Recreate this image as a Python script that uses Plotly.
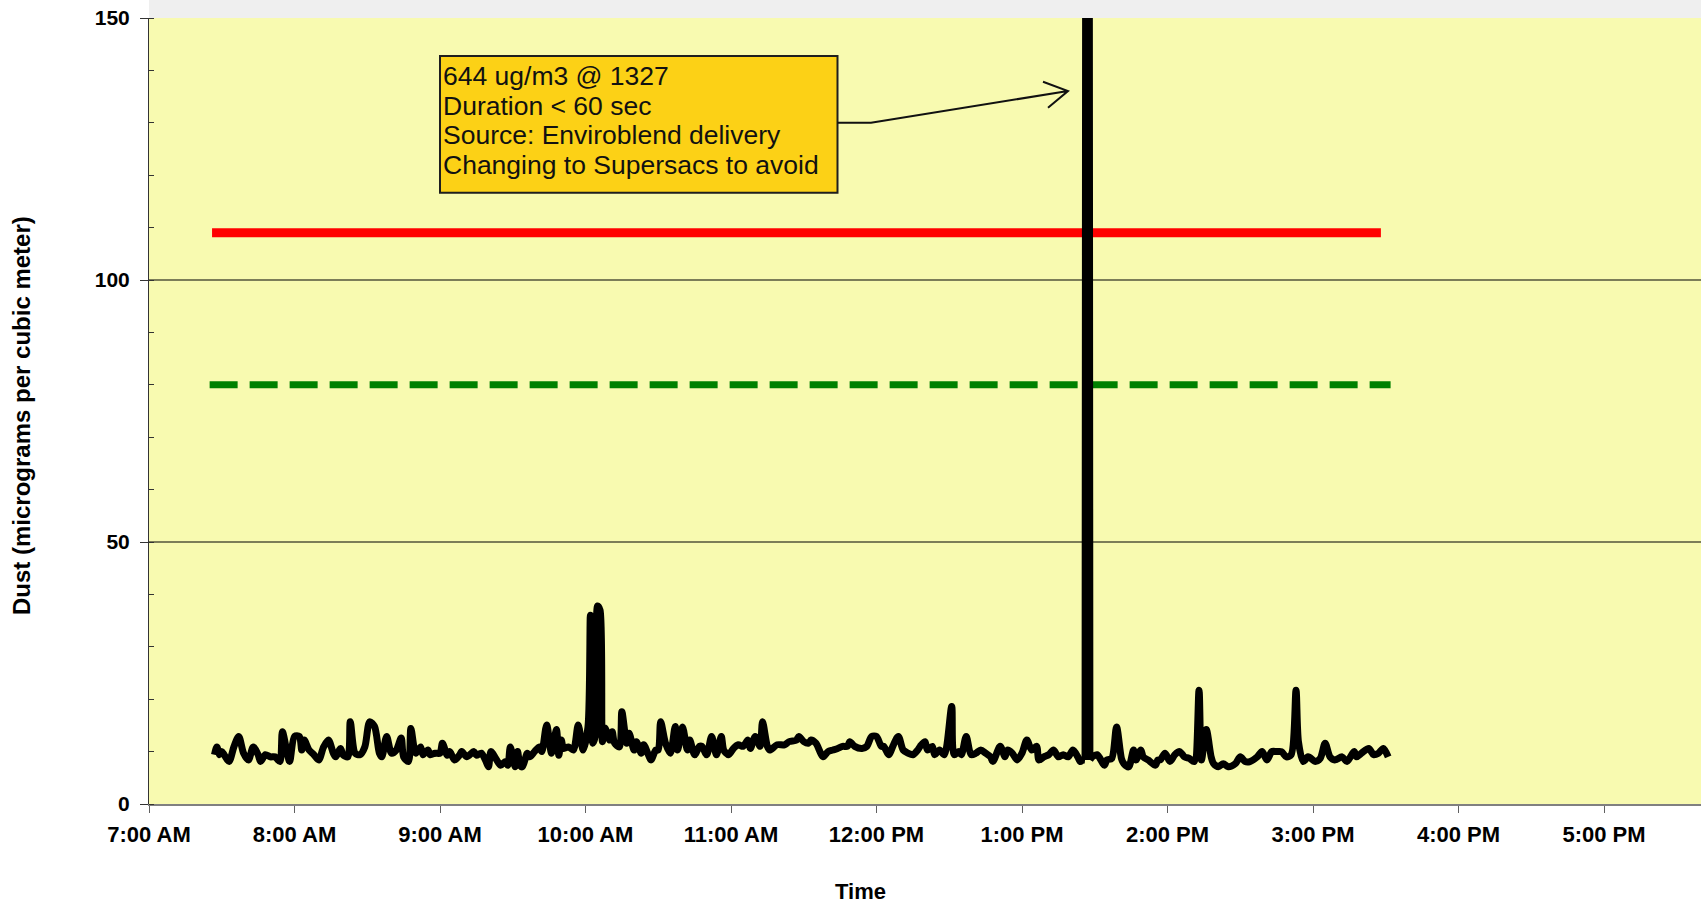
import pandas as pd
import plotly.graph_objects as go

DAY = "2000-01-01"

# ---- measured dust (ug/m3) -------------------------------------------------
TIMES = [
    "7:27", "7:28", "7:29", "7:30", "7:31", "7:33", "7:35", "7:37", "7:39", "7:41",
    "7:43", "7:45", "7:46", "7:48", "7:50", "7:52", "7:54", "7:55", "7:57", "7:58",
    "8:00", "8:02", "8:03", "8:04", "8:06", "8:08", "8:10", "8:12", "8:14", "8:16",
    "8:17", "8:19", "8:20", "8:22", "8:23", "8:25", "8:27", "8:29", "8:31", "8:33",
    "8:35", "8:36", "8:38", "8:40", "8:42", "8:44", "8:45", "8:47", "8:48", "8:50",
    "8:52", "8:53", "8:55", "8:56", "8:58",
    "9:00", "9:01", "9:03", "9:04", "9:06", "9:08", "9:09", "9:11", "9:14", "9:15",
    "9:17", "9:19", "9:20", "9:21", "9:23", "9:25", "9:27", "9:28", "9:29", "9:31",
    "9:32", "9:33", "9:34", "9:36", "9:37", "9:39", "9:41", "9:42", "9:44", "9:46",
    "9:48", "9:49", "9:50", "9:51", "9:53", "9:55", "9:57", "9:59",
    "10:01", "10:02", "10:03", "10:04", "10:05", "10:06", "10:07", "10:08", "10:10", "10:11",
    "10:12", "10:14", "10:15", "10:17", "10:18", "10:20", "10:21", "10:23", "10:24", "10:26",
    "10:27", "10:29", "10:30", "10:31", "10:33", "10:35", "10:37", "10:38", "10:40", "10:42",
    "10:43", "10:45", "10:47", "10:48", "10:50", "10:52", "10:54", "10:56", "10:57", "10:59",
    "11:01", "11:03", "11:05", "11:07", "11:08", "11:10", "11:12", "11:13", "11:15", "11:16",
    "11:19", "11:22", "11:24", "11:27", "11:28", "11:30", "11:32", "11:33", "11:35", "11:38",
    "11:40", "11:42", "11:44", "11:46", "11:48", "11:49", "11:51", "11:54", "11:56", "11:58",
    "12:00", "12:02", "12:03", "12:05", "12:07", "12:09", "12:11", "12:13", "12:15", "12:17",
    "12:18", "12:20", "12:21", "12:23", "12:24", "12:26", "12:28", "12:31", "12:32", "12:34",
    "12:35", "12:37", "12:39", "12:41", "12:43", "12:45", "12:47", "12:48", "12:51", "12:53",
    "12:54", "12:56", "12:58",
    "13:00", "13:02", "13:04", "13:06", "13:07", "13:09", "13:11", "13:13", "13:15", "13:17",
    "13:19", "13:21", "13:23", "13:24", "13:25", "13:26", "13:27", "13:28", "13:29", "13:31",
    "13:34", "13:35", "13:37", "13:39", "13:41", "13:42", "13:44", "13:46", "13:47", "13:49",
    "13:50", "13:52", "13:55", "13:56", "13:57", "13:59",
    "14:01", "14:03", "14:05", "14:07", "14:09", "14:11", "14:13", "14:14", "14:16", "14:18",
    "14:19", "14:21", "14:23", "14:25", "14:28", "14:30", "14:32", "14:34", "14:37", "14:39",
    "14:41", "14:43", "14:45", "14:47", "14:49", "14:51", "14:53", "14:54", "14:56", "14:58",
    "15:01", "15:03", "15:05", "15:07", "15:09", "15:12", "15:14", "15:17", "15:18", "15:20",
    "15:23", "15:25", "15:27", "15:29", "15:31",
]
DUST = [
    9.4, 10.9, 9.4, 10.0, 9.4, 8.1, 10.9, 12.9, 9.7, 8.4,
    10.9, 9.4, 8.1, 9.4, 9.0, 9.0, 8.1, 13.8, 9.7, 8.1,
    12.9, 12.9, 10.3, 12.2, 10.3, 9.4, 8.4, 10.9, 12.2, 9.7,
    9.0, 10.6, 9.4, 9.0, 15.7, 9.7, 9.4, 10.9, 15.7, 14.8,
    9.7, 9.0, 12.9, 9.7, 10.3, 12.6, 9.0, 8.1, 14.4, 9.7,
    10.9, 9.4, 10.3, 9.4, 9.7,
    9.7, 11.6, 9.3, 10.0, 8.4, 9.3, 10.0, 9.0, 10.0, 9.3,
    9.7, 8.1, 7.1, 10.0, 8.7, 7.4, 8.1, 7.4, 10.9, 7.1,
    10.0, 7.4, 7.1, 9.7, 9.0, 10.0, 10.9, 10.0, 15.1, 9.7,
    14.2, 9.3, 12.2, 10.6, 10.9, 10.3, 15.1, 10.3,
    14.6, 36.0, 11.6, 12.9, 37.8, 37.0, 11.9, 14.5, 12.2, 13.8,
    11.6, 10.9, 17.6, 11.6, 13.5, 10.3, 11.9, 9.7, 11.3, 9.3,
    8.4, 10.3, 10.3, 15.7, 11.6, 9.7, 14.8, 10.3, 14.7, 10.3,
    12.2, 9.4, 11.0, 11.0, 9.4, 12.9, 9.4, 12.9, 10.3, 9.4,
    10.6, 11.3, 11.0, 12.2, 10.6, 12.9, 11.0, 15.7, 11.0, 10.3,
    11.3, 11.3, 11.9, 12.2, 12.9, 11.9, 11.6, 12.2, 11.6, 9.0,
    10.0, 10.3, 10.6, 11.0, 11.0, 11.9, 11.0, 10.6, 11.0, 12.9,
    12.9, 11.0, 11.0, 9.4, 11.3, 12.9, 10.3, 9.7, 9.4, 10.3,
    11.0, 11.9, 10.3, 11.0, 9.4, 10.3, 9.4, 18.6, 9.4, 10.0,
    9.4, 12.9, 9.4, 9.7, 10.3, 9.7, 9.0, 8.1, 11.0, 9.0,
    10.3, 9.7, 8.4,
    9.7, 12.2, 10.3, 11.0, 8.4, 9.0, 9.4, 10.3, 9.0, 9.4,
    9.0, 10.3, 9.0, 8.1, 8.4, 8.4, 644.0, 8.4, 9.0, 9.4,
    7.4, 8.4, 8.7, 14.7, 8.7, 7.7, 7.1, 10.3, 8.4, 10.3,
    9.0, 8.4, 7.4, 8.4, 8.4, 9.7,
    8.1, 9.4, 10.0, 9.0, 8.7, 8.1, 21.7, 8.4, 14.2, 9.0,
    7.7, 7.1, 7.7, 7.1, 7.7, 9.0, 8.1, 8.1, 9.0, 10.0,
    8.4, 10.0, 10.0, 10.0, 9.0, 9.4, 21.7, 11.9, 8.1, 9.0,
    8.1, 8.7, 11.6, 9.0, 8.4, 9.0, 8.1, 10.0, 9.0, 9.7,
    10.6, 9.4, 9.7, 10.6, 9.0,
]

# ---- reference levels ------------------------------------------------------
RED_TIMES = ["7:26", "15:28"]
RED_LEVEL = [109, 109]
GREEN_TIMES = ["7:25", "15:32"]
GREEN_LEVEL = [80, 80]

# ---- axes ------------------------------------------------------------------
X_TICK_TIMES = ["7:00", "8:00", "9:00", "10:00", "11:00", "12:00",
                "13:00", "14:00", "15:00", "16:00", "17:00"]
X_TICK_LABELS = ["7:00 AM", "8:00 AM", "9:00 AM", "10:00 AM", "11:00 AM", "12:00 PM",
                 "1:00 PM", "2:00 PM", "3:00 PM", "4:00 PM", "5:00 PM"]
X_RANGE = ["7:00", "17:40"]
Y_TICKS = [0, 50, 100, 150]
Y_RANGE = [0, 150]
GRID_VALUES = [50, 100]

X_TITLE = "Time"
Y_TITLE = "Dust (micrograms per cubic meter)"
NOTE_LINES = ["644 ug/m3 @ 1327", "Duration < 60 sec",
              "Source: Enviroblend delivery", "Changing to Supersacs to avoid"]


def ts(hhmm):
    h, m = hhmm.split(":")
    return pd.Timestamp(f"{DAY} {int(h):02d}:{m}")


FONT = "Arial, 'Liberation Sans', sans-serif"
W, H = 1701, 906
M_L, M_R, M_T, M_B = 149, 0, 18, 102
PW, PH = W - M_L - M_R, H - M_T - M_B


def px(x):
    return (x - M_L) / PW


def py(y):
    return (H - M_B - y) / PH


fig = go.Figure()

fig.add_trace(go.Scatter(
    x=[ts(t) for t in GREEN_TIMES], y=GREEN_LEVEL, mode="lines",
    line=dict(color="#008000", width=7, dash="28px,12px"),
    hoverinfo="skip", showlegend=False))
fig.add_trace(go.Scatter(
    x=[ts(t) for t in RED_TIMES], y=RED_LEVEL, mode="lines",
    line=dict(color="#FF0000", width=9),
    hoverinfo="skip", showlegend=False))

# Dust series: smoothed everywhere, but off-scale readings are joined with
# straight segments so the smoothing does not balloon outside the axis range.
xs = [ts(t) for t in TIMES]
over = [i for i, v in enumerate(DUST) if v > Y_RANGE[1]]
cuts = [0]
for i in over:
    cuts += [i - 1, i + 1]
cuts.append(len(DUST) - 1)
for k in range(0, len(cuts) - 1):
    a, b = cuts[k], cuts[k + 1]
    shape = "spline" if k % 2 == 0 else "linear"
    fig.add_trace(go.Scatter(
        x=xs[a:b + 1], y=DUST[a:b + 1], mode="lines",
        line=dict(color="#000000", width=7, shape=shape, smoothing=0.8),
        showlegend=False))

shapes = []
for g in GRID_VALUES:
    shapes.append(dict(type="line", xref="paper", x0=0, x1=1, yref="y", y0=g, y1=g,
                       line=dict(color="#000000", width=1), layer="below"))
# light strip above the plot area
shapes.append(dict(type="rect", xref="paper", yref="paper", x0=0, x1=1,
                   y0=1, y1=py(0), fillcolor="#EFEFEF", line=dict(width=0), layer="below"))
# note box
shapes.append(dict(type="rect", xref="paper", yref="paper",
                   x0=px(440), x1=px(837.5), y0=py(192.7), y1=py(56),
                   fillcolor="#FCD116", line=dict(color="#1E1E1E", width=2)))
# elbow connector with open arrow head
path = (f"M {px(837.5)} {py(122.7)} L {px(871)} {py(122.7)} L {px(1068)} {py(91)} "
        f"M {px(1043)} {py(81.7)} L {px(1068)} {py(91)} L {px(1048)} {py(107.7)}")
shapes.append(dict(type="path", xref="paper", yref="paper", path=path,
                   line=dict(color="#111111", width=2)))

annotations = []
note_centers = [76.0, 105.5, 135.0, 164.5]
for txt, yc in zip(NOTE_LINES, note_centers):
    annotations.append(dict(text=txt, xref="paper", yref="paper", x=px(441), y=py(yc),
                            xanchor="left", yanchor="middle", showarrow=False,
                            font=dict(family=FONT, size=26.5, color="#111111")))
annotations.append(dict(text=X_TITLE, xref="paper", yref="paper", x=px(860), y=py(892),
                        xanchor="center", yanchor="middle", showarrow=False,
                        font=dict(family=FONT, size=22, color="#000000", weight="bold")))
annotations.append(dict(text=Y_TITLE, xref="paper", yref="paper", x=px(22), y=py(416),
                        xanchor="center", yanchor="middle", showarrow=False, textangle=-90,
                        font=dict(family=FONT, size=24, color="#000000", weight="bold")))

fig.update_layout(
    width=W, height=H, autosize=False,
    margin=dict(l=M_L, r=M_R, t=M_T, b=M_B, pad=0),
    paper_bgcolor="#FFFFFF", plot_bgcolor="#F8FAB0",
    font=dict(family=FONT, color="#000000"),
    shapes=shapes, annotations=annotations,
    xaxis=dict(
        type="date", range=[ts(X_RANGE[0]), ts(X_RANGE[1])],
        tickvals=[ts(t) for t in X_TICK_TIMES], ticktext=X_TICK_LABELS,
        ticks="outside", ticklen=7, tickcolor="#606060", tickwidth=1,
        showline=True, linecolor="#808080", linewidth=2,
        showgrid=False, zeroline=False, ticklabelstandoff=3,
        tickfont=dict(family=FONT, size=22, color="#000000", weight="bold"),
    ),
    yaxis=dict(
        range=Y_RANGE, tickvals=Y_TICKS,
        ticks="outside", ticklen=8, tickcolor="#333333",
        minor=dict(ticks="inside", ticklen=5, dtick=10, tickcolor="#333333", showgrid=False),
        showline=True, linecolor="#333333", linewidth=1,
        showgrid=False, zeroline=False, ticklabelstandoff=6,
        tickfont=dict(family=FONT, size=21, color="#000000", weight="bold"),
    ),
)

fig.write_html("out.html", config={"displayModeBar": False},
               post_script="document.body.style.margin='0';document.body.style.overflow='hidden';")
